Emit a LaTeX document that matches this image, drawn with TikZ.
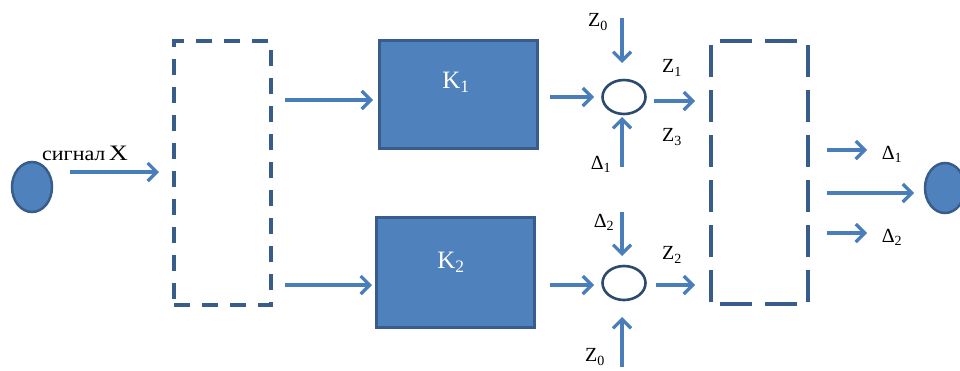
\documentclass[tikz,border=0pt]{standalone}
\usepackage{fontspec}
\setmainfont{Liberation Serif}
\usetikzlibrary{arrows.meta,shapes.geometric}
\definecolor{arrblue}{HTML}{4A7EBB}
\definecolor{boxfill}{HTML}{4F81BD}
\definecolor{boxline}{HTML}{385D8A}
\definecolor{dashcol}{HTML}{385D8A}
\definecolor{ringcol}{HTML}{2C4A70}
\tikzset{
  arr/.style={draw=arrblue, line width=3.2pt, -{Straight Barb[length=9pt,width=18pt,line width=3.2pt]}},
  kbox/.style={draw=boxline, line width=3pt, fill=boxfill, rectangle, inner sep=0pt},
  dbox/.style={draw=dashcol, line width=3.8pt, dash pattern=on 16pt off 12pt, rectangle, inner sep=0pt},
  frame/.style={rectangle, inner sep=0pt},
  hside/.style={draw=dashcol, line width=3.8pt, dash pattern=on 32pt off 13pt, dash phase=36pt},
  vside/.style={draw=dashcol, line width=3.8pt, dash pattern=on 32pt off 13pt, dash phase=41pt},
  ring/.style={draw=ringcol, line width=2.6pt, fill=white, ellipse, inner sep=0pt},
  dot/.style={draw=boxline, line width=2.5pt, fill=boxfill, ellipse, inner sep=0pt},
  lbl/.style={font=\fontsize{20}{20}\selectfont, inner sep=0pt, text=black},
  klbl/.style={font=\fontsize{25}{25}\selectfont, text=white, inner sep=0pt},
}
\begin{document}
\begin{tikzpicture}[x=1pt,y=-1pt]
\useasboundingbox (0,0) rectangle (960,370);
\clip (0,0) rectangle (960,370);
% end dots
\node[dot, minimum width=40pt, minimum height=50pt] (src) at (32,187) {};
\node[dot, minimum width=40pt, minimum height=50pt] (dst) at (945,188) {};
% dashed boxes
\node[dbox, minimum width=97pt, minimum height=264pt] (d1) at (222.5,173) {};
\node[frame, minimum width=97pt, minimum height=263pt] (d2) at (759.5,172.5) {};
\draw[hside] (d2.north west) -- (d2.north east);
\draw[hside] (d2.south west) -- (d2.south east);
\draw[vside] (d2.north west) -- (d2.south west);
\draw[vside] (d2.north east) -- (d2.south east);
% K boxes
\node[kbox, minimum width=158pt, minimum height=108pt] (k1) at (458,94) {};
\node[kbox, minimum width=158pt, minimum height=110pt] (k2) at (455,272) {};
\node[klbl] (k1t) at (456,82) {K\textsubscript{1}};
\node[klbl] (k2t) at (451,262) {K\textsubscript{2}};
% summing rings
\node[ring, minimum width=43pt, minimum height=34pt] (s1) at (624,97) {};
\node[ring, minimum width=43pt, minimum height=34pt] (s2) at (624,283) {};
% input
\node[lbl, anchor=base west] (sig) at (42,160) {{\fontsize{20}{20}\selectfont\scalebox{1.1}[1]{сигнал}}\,{\fontsize{22}{22}\selectfont\scalebox{1.2}[1]{X}}};
\coordinate (x0) at (70,172);
\coordinate (x1) at (159,172);
\draw[arr] (x0) -- (x1);
% to K boxes
\coordinate (a0) at (285,100); \coordinate (a1) at (373,100);
\coordinate (b0) at (285,285); \coordinate (b1) at (372,285);
\draw[arr] (a0) -- (a1);
\draw[arr] (b0) -- (b1);
% K to rings
\coordinate (c0) at (550,97); \coordinate (c1) at (594,97);
\coordinate (e0) at (550,285); \coordinate (e1) at (594,285);
\draw[arr] (c0) -- (c1);
\draw[arr] (e0) -- (e1);
% ring 1 inputs
\node[lbl] (z0a) at (598,22) {Z\textsubscript{0}};
\coordinate (f0) at (622,18); \coordinate (f1) at (622,63);
\draw[arr] (f0) -- (f1);
\node[lbl] (dl1) at (601,164) {Δ\textsubscript{1}};
\coordinate (g0) at (622,167); \coordinate (g1) at (622,117);
\draw[arr] (g0) -- (g1);
% ring 1 output
\coordinate (h0) at (654,101); \coordinate (h1) at (695,101);
\draw[arr] (h0) -- (h1);
\node[lbl] (z1) at (672,68) {Z\textsubscript{1}};
\node[lbl] (z3) at (672,137) {Z\textsubscript{3}};
% ring 2 inputs
\node[lbl] (dl2) at (604,222) {Δ\textsubscript{2}};
\coordinate (i0) at (622,212); \coordinate (i1) at (622,256);
\draw[arr] (i0) -- (i1);
\node[lbl] (z0b) at (595,357) {Z\textsubscript{0}};
\coordinate (j0) at (622,367); \coordinate (j1) at (622,317);
\draw[arr] (j0) -- (j1);
% ring 2 output
\coordinate (m0) at (656,285); \coordinate (m1) at (695,285);
\draw[arr] (m0) -- (m1);
\node[lbl] (z2) at (672,255) {Z\textsubscript{2}};
% outputs
\coordinate (n0) at (827,150); \coordinate (n1) at (867,150);
\draw[arr] (n0) -- (n1);
\node[lbl] (od1) at (892,154) {Δ\textsubscript{1}};
\coordinate (p0) at (827,193); \coordinate (p1) at (914,193);
\draw[arr] (p0) -- (p1);
\coordinate (q0) at (827,233); \coordinate (q1) at (867,233);
\draw[arr] (q0) -- (q1);
\node[lbl] (od2) at (892,237) {Δ\textsubscript{2}};
\end{tikzpicture}
\end{document}
